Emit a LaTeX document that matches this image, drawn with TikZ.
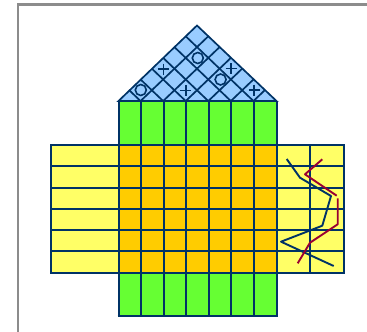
\documentclass[tikz,border=0pt]{standalone}
\usetikzlibrary{calc}
\definecolor{gridblue}{HTML}{003366}
\definecolor{roofblue}{HTML}{99CCFF}
\definecolor{wallgreen}{HTML}{66FF33}
\definecolor{coreorange}{HTML}{FFCC00}
\definecolor{wingyellow}{HTML}{FFFF66}
\definecolor{crackred}{HTML}{990033}
\tikzset{
    gridline/.style={draw=gridblue, line width=2pt},
    roofline/.style={draw=gridblue, line width=1.7pt},
    crackline/.style={line width=1.9pt, line join=round},
    ringmark/.style={circle, draw=gridblue, line width=1.6pt, minimum size=11pt, inner sep=0pt},
    framegray/.style={draw=gray!90, line width=2.8pt}
}

\begin{document}
\begin{tikzpicture}[x=1pt, y=-1pt]
        \useasboundingbox (0,0) rectangle (367,332);
        \draw[framegray] (18,332) -- (18,4.5) -- (367,4.5);

        % fills
        \fill[wingyellow] (51,145) rectangle (344,273);
        \fill[wallgreen] (118.5,101) rectangle (276.5,316);
        \fill[coreorange] (118.5,145) rectangle (276.5,273);
        \fill[roofblue] (197,25.5) -- (276.5,101) -- (118.5,101) -- cycle;

        % roof grid
        \foreach \i in {1,...,6} {
            \draw[roofline] ({197-\i*11.29},{25.5+\i*10.79}) -- ({197-\i*11.29+(7-\i)*11.29},{25.5+\i*10.79+(7-\i)*10.79});
            \draw[roofline] ({197+\i*11.29},{25.5+\i*10.79}) -- ({197+\i*11.29-(7-\i)*11.29},{25.5+\i*10.79+(7-\i)*10.79});
        }
        \draw[roofline] (118.5,101) -- (197,25.5) -- (276.5,101) -- cycle;

        % columns and rows
        \foreach \x in {118.5,141,163.6,186.2,208.8,231.3,253.9,276.5}
            \draw[gridline] (\x,101) -- (\x,316);
        \foreach \y in {145,166.3,187.5,208.8,230,251.3,273}
            \draw[gridline] (51,\y) -- (344,\y);
        \draw[gridline] (117.5,316) -- (277.5,316);
        \draw[gridline] (51,144) -- (51,274);
        \draw[gridline] (310,145) -- (310,273);
        \draw[gridline] (344,144) -- (344,274);

        % marks on the roof
        \node[ringmark] (ringa) at (140.8,90) {};
        \node[ringmark] (ringb) at (197.8,58) {};
        \node[ringmark] (ringc) at (220.6,79.5) {};
        \foreach \px/\py in {163.4/69, 231.2/68.5, 185.7/90.5, 254/90} {
            \draw[roofline] (\px-5.5,\py) -- (\px+5.5,\py);
            \draw[roofline] (\px,\py-5.5) -- (\px,\py+5.5);
        }

        % cracks
        \draw[crackline, gridblue] (286.7,159) -- (300,177.7) -- (331,196) -- (322.3,225.7) -- (281,241.7) -- (333.7,266);
        \draw[crackline, crackred] (322.3,159.3) -- (305,174.3) -- (336.7,195.7);
        \draw[crackline, crackred] (337.7,198.3) -- (337.7,224.3) -- (310,242.7) -- (297.7,263.3);
    \end{tikzpicture}
\end{document}
